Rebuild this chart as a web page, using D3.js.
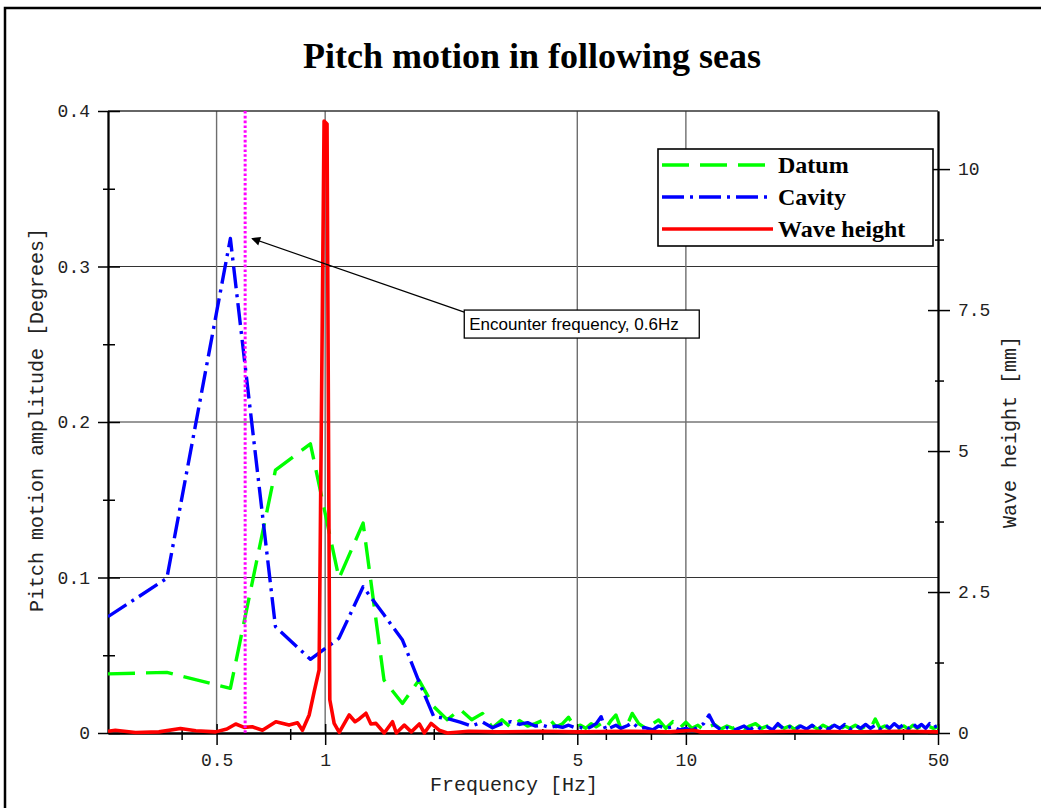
<!DOCTYPE html>
<html>
<head>
<meta charset="utf-8">
<script src="https://cdn.jsdelivr.net/npm/d3@7"></script>
<style>
  body { margin: 0; background: #fff; }
</style>
</head>
<body>
<div id="chart"></div>
<script>
// spectrum frequencies shared by the two pitch series [Hz]
var specFreq = [0.25, 0.364, 0.546, 0.728, 0.91, 1.092, 1.274, 1.456, 1.638, 1.82,
  2.0, 2.18, 2.366, 2.548, 2.73, 2.91, 3.09, 3.276, 3.46, 3.64,
  3.82, 4.0, 4.19, 4.37, 4.55, 4.73, 4.91, 5.1, 5.28, 5.46,
  5.64, 5.82, 6.0, 6.2, 6.4, 6.6, 6.9, 7.1, 7.4, 7.7,
  8.1, 8.4, 8.8, 9.2, 9.6,
  10, 10.4, 10.8, 11.2, 11.6, 12, 12.5, 13, 13.5, 14,
  14.5, 15, 15.6, 16.2, 16.8, 17.4, 18, 18.7, 19.4, 20,
  20.8, 21.6, 22.4, 23.2, 24, 24.9, 25.8, 26.7, 27.6, 28.5,
  29.5, 30.5, 31.5, 32.5, 33.5, 34.5, 35.6, 36.7, 37.8, 39,
  40.2, 41.4, 42.6, 43.8, 45, 46.2, 47.4, 48.6, 50];

// pitch amplitude [deg]
var datumAmp = [0.038, 0.039, 0.0287, 0.169, 0.186, 0.0995, 0.135, 0.034, 0.019, 0.034,
  0.017, 0.0085, 0.0152, 0.0085, 0.0126, 0.0034, 0.0085, 0.0034, 0.008, 0.0045,
  0.006, 0.008, 0.0088, 0.004, 0.006, 0.0101, 0.004, 0.005, 0.003, 0.006,
  0.004, 0.006, 0.003, 0.008, 0.0116, 0.003, 0.006, 0.0126, 0.006, 0.0034,
  0.006, 0.0084, 0.003, 0.0073, 0.003,
  0.007, 0.003, 0.005, 0.002, 0.004, 0.0055, 0.0025, 0.0045, 0.003, 0.005,
  0.0025, 0.0045, 0.006, 0.003, 0.0045, 0.0025, 0.005, 0.003, 0.0045, 0.0025,
  0.005, 0.003, 0.0045, 0.0025, 0.005, 0.003, 0.0055, 0.0025, 0.0045, 0.003,
  0.005, 0.0025, 0.0045, 0.003, 0.009, 0.003, 0.0045, 0.0025, 0.005, 0.003,
  0.0045, 0.0025, 0.005, 0.003, 0.0045, 0.0025, 0.004, 0.003, 0.004];

var cavityAmp = [0.0748, 0.0995, 0.318, 0.0684, 0.0474, 0.0609, 0.094, 0.076, 0.0598, 0.033,
  0.0105, 0.0094, 0.007, 0.0045, 0.0071, 0.0034, 0.006, 0.0073, 0.0055, 0.0067,
  0.0045, 0.005, 0.0035, 0.0045, 0.0036, 0.005, 0.0036, 0.0036, 0.0024, 0.004,
  0.006, 0.0105, 0.0019, 0.0035, 0.005, 0.003, 0.0048, 0.0067, 0.003, 0.0035,
  0.002, 0.0045, 0.003, 0.004, 0.002,
  0.003, 0.0015, 0.004, 0.006, 0.0116, 0.005, 0.002, 0.0035, 0.0015, 0.003,
  0.0045, 0.002, 0.0045, 0.0025, 0.004, 0.002, 0.006, 0.0025, 0.004, 0.002,
  0.0045, 0.0025, 0.005, 0.002, 0.0045, 0.0025, 0.005, 0.003, 0.0055, 0.0025,
  0.005, 0.003, 0.0055, 0.003, 0.005, 0.0025, 0.0055, 0.003, 0.006, 0.0035,
  0.0055, 0.003, 0.006, 0.0035, 0.0055, 0.003, 0.006, 0.0035, 0.005];

// wave height record [Hz] / [mm]
var waveFreq = [0.25, 0.262, 0.298, 0.346, 0.397, 0.438, 0.497, 0.534, 0.565, 0.596,
  0.628, 0.67, 0.73, 0.794, 0.838, 0.865, 0.903, 0.932, 0.962, 0.993,
  1.012, 1.03, 1.059, 1.094, 1.166, 1.21, 1.243, 1.297, 1.339, 1.383,
  1.458, 1.537, 1.575, 1.657, 1.733, 1.824, 1.884, 1.966, 2.07, 2.18,
  2.5, 3, 4, 5, 7, 9, 10.5, 11, 15, 20, 30, 40, 50];
var waveMm = [0.03, 0.05, 0.01, 0.02, 0.08, 0.04, 0.02, 0.07, 0.16, 0.10,
  0.11, 0.05, 0.20, 0.14, 0.18, 0.05, 0.32, 0.73, 1.12, 10.85,
  10.8, 0.59, 0.17, 0.01, 0.32, 0.20, 0.25, 0.35, 0.16, 0.17,
  0.0, 0.20, 0.0, 0.14, 0.02, 0.16, 0.0, 0.17, 0.05, 0.0,
  0.03, 0.02, 0.03, 0.02, 0.03, 0.02, 0.05, 0.02, 0.02, 0.03, 0.02, 0.03, 0.02];

var xMajor = [0.5, 1, 5, 10, 50];
var xMinor = [0.4, 0.8, 2, 4, 6, 8, 20, 40];
var xGrid = [0.5, 1, 5, 10];
var yLeftMajor = [0, 0.1, 0.2, 0.3, 0.4];
var yLeftMinor = [0.05, 0.15, 0.25, 0.35];
var yRightMajor = [0, 2.5, 5, 7.5, 10];
var yRightMinor = [1.25, 3.75, 6.25, 8.75];
var encounterFreq = 0.6;

var W = 1041, H = 808;
var pL = 108, pR = 938, pT = 111, pB = 733;

var x = d3.scaleLog().domain([0.25, 50]).range([pL, pR]);
var yL = d3.scaleLinear().domain([0, 0.4]).range([pB, pT]);
var yR = d3.scaleLinear().domain([0, 11.03]).range([pB, pT]);

var svg = d3.select("#chart").append("svg")
  .attr("width", W).attr("height", H);

var defs = svg.append("defs");
defs.append("clipPath").attr("id", "plot")
  .append("rect").attr("x", pL).attr("y", pT - 6)
  .attr("width", pR - pL).attr("height", pB - pT + 9);

defs.append("marker").attr("id", "arrow")
  .attr("viewBox", "0 0 10 10").attr("refX", 9).attr("refY", 5)
  .attr("markerWidth", 16).attr("markerHeight", 9)
  .attr("markerUnits", "userSpaceOnUse").attr("orient", "auto-start-reverse")
  .append("path").attr("d", "M0,0L10,5L0,10Z").attr("fill", "#000");

// outer frame
svg.append("rect").attr("x", 5).attr("y", 8).attr("width", 1200).attr("height", 1000)
  .attr("fill", "none").attr("stroke", "#000").attr("stroke-width", 2.5);

svg.append("text").attr("x", 532).attr("y", 68)
  .attr("text-anchor", "middle")
  .style("font-family", "'Liberation Serif', 'Times New Roman', serif")
  .style("font-weight", "bold").style("font-size", "36px")
  .text("Pitch motion in following seas");

// grid
svg.append("g").selectAll("line").data(yLeftMajor.slice(1, 4)).enter().append("line")
  .attr("x1", pL).attr("x2", pR)
  .attr("y1", yL).attr("y2", yL)
  .attr("stroke", "#333").attr("stroke-width", 1);
svg.append("g").selectAll("line").data(xGrid).enter().append("line")
  .attr("x1", x).attr("x2", x)
  .attr("y1", pT).attr("y2", pB)
  .attr("stroke", "#6e6e6e").attr("stroke-width", 1.4);
svg.append("line").attr("x1", pL).attr("x2", pR).attr("y1", pT).attr("y2", pT)
  .attr("stroke", "#333").attr("stroke-width", 1.5);

// axes
function tickSet(gen, values, out, inn, fmt) {
  var g = svg.append("g");
  g.call(gen().tickValues(values).tickSize(out).tickPadding(8).tickSizeOuter(0)
    .tickFormat(fmt || ""));
  g.append("g").call(gen().tickValues(values).tickSize(-inn).tickSizeOuter(0).tickFormat(""))
    .select(".domain").remove();
  g.selectAll("line").attr("stroke", "#000").attr("stroke-width", 1.5);
  g.selectAll(".domain").attr("stroke", "#000").attr("stroke-width", 1.8);
  g.selectAll("text").style("font-family", "'Liberation Mono', monospace")
    .style("font-size", "18px").attr("fill", "#222");
  return g;
}
var fmtNum = function(d) { return String(d); };

var gx = function() { return d3.axisBottom(x); };
tickSet(gx, xMajor, 12, 9, fmtNum).attr("transform", "translate(0," + pB + ")");
tickSet(gx, xMinor, 7, 4).attr("transform", "translate(0," + pB + ")");

var gl = function() { return d3.axisLeft(yL); };
tickSet(gl, yLeftMajor, 10, 12, fmtNum).attr("transform", "translate(" + pL + ",0)");
tickSet(gl, yLeftMinor, 5, 7).attr("transform", "translate(" + pL + ",0)");

var gr = function() { return d3.axisRight(yR); };
tickSet(gr, yRightMajor, 12, 10, fmtNum).attr("transform", "translate(" + pR + ",0)");
tickSet(gr, yRightMinor, 6, 3).attr("transform", "translate(" + pR + ",0)");

// axis titles
var mono = "'Liberation Mono', monospace";
svg.append("text").attr("transform", "translate(43,420) rotate(-90)")
  .attr("text-anchor", "middle").style("font-family", mono).style("font-size", "20px")
  .attr("fill", "#222").text("Pitch motion amplitude [Degrees]");
svg.append("text").attr("transform", "translate(1016,432) rotate(-90)")
  .attr("text-anchor", "middle").style("font-family", mono).style("font-size", "20px")
  .attr("fill", "#222").text("Wave height [mm]");
svg.append("text").attr("x", 514).attr("y", 791)
  .attr("text-anchor", "middle").style("font-family", mono).style("font-size", "20px")
  .attr("fill", "#222").text("Frequency [Hz]");

// data
var plot = svg.append("g").attr("clip-path", "url(#plot)");

var lineL = d3.line().x(function(d) { return x(d[0]); }).y(function(d) { return yL(d[1]); });
var lineR = d3.line().x(function(d) { return x(d[0]); }).y(function(d) { return yR(d[1]); });

var series = [
  { name: "Datum", data: d3.zip(specFreq, datumAmp), line: lineL, color: "#00ff00", dash: "27,11", width: 3.4 },
  { name: "Cavity", data: d3.zip(specFreq, cavityAmp), line: lineL, color: "#0000ff", dash: "22,6,3,6", width: 3.4 },
  { name: "Wave height", data: d3.zip(waveFreq, waveMm), line: lineR, color: "#ff0000", dash: null, width: 3.6 }
];

plot.selectAll("path.series").data(series).enter().append("path")
  .attr("class", "series")
  .attr("d", function(d) { return d.line(d.data); })
  .attr("fill", "none")
  .attr("stroke", function(d) { return d.color; })
  .attr("stroke-width", function(d) { return d.width; })
  .attr("stroke-dasharray", function(d) { return d.dash; })
  .attr("stroke-linejoin", "round");

// encounter frequency marker
svg.append("line")
  .attr("x1", x(encounterFreq)).attr("x2", x(encounterFreq))
  .attr("y1", pT).attr("y2", pB)
  .attr("stroke", "#ff00ff").attr("stroke-width", 3)
  .attr("stroke-dasharray", "2.6,2.2");

// annotation
var tipX = x(0.627), tipY = yL(0.318);
var boxX = x(2.43), boxY = yL(0.2707);
svg.append("line").attr("x1", tipX).attr("y1", tipY).attr("x2", boxX).attr("y2", boxY)
  .attr("stroke", "#000").attr("stroke-width", 1.2)
  .attr("marker-start", "url(#arrow)");
svg.append("rect").attr("x", boxX).attr("y", boxY - 2).attr("width", 235).attr("height", 28)
  .attr("fill", "#fff").attr("stroke", "#000").attr("stroke-width", 1.3);
svg.append("text").attr("x", boxX + 5).attr("y", boxY + 18)
  .style("font-family", "'Liberation Sans', Arial, sans-serif").style("font-size", "17px")
  .text("Encounter frequency, " + encounterFreq + "Hz");

// legend
var leg = svg.append("g").attr("transform", "translate(658,149)");
leg.append("rect").attr("width", 275).attr("height", 97)
  .attr("fill", "#fff").attr("stroke", "#000").attr("stroke-width", 1.6);
var row = leg.selectAll("g.row").data(series).enter().append("g")
  .attr("transform", function(d, i) { return "translate(0," + (16 + i * 32) + ")"; });
row.append("line").attr("x1", 4).attr("x2", 115)
  .attr("stroke", function(d) { return d.color; })
  .attr("stroke-width", 3.5)
  .attr("stroke-dasharray", function(d) { return d.dash; });
row.append("text").attr("x", 120).attr("y", 8)
  .style("font-family", "'Liberation Serif', 'Times New Roman', serif")
  .style("font-weight", "bold").style("font-size", "24px")
  .text(function(d) { return d.name; });
</script>
</body>
</html>
